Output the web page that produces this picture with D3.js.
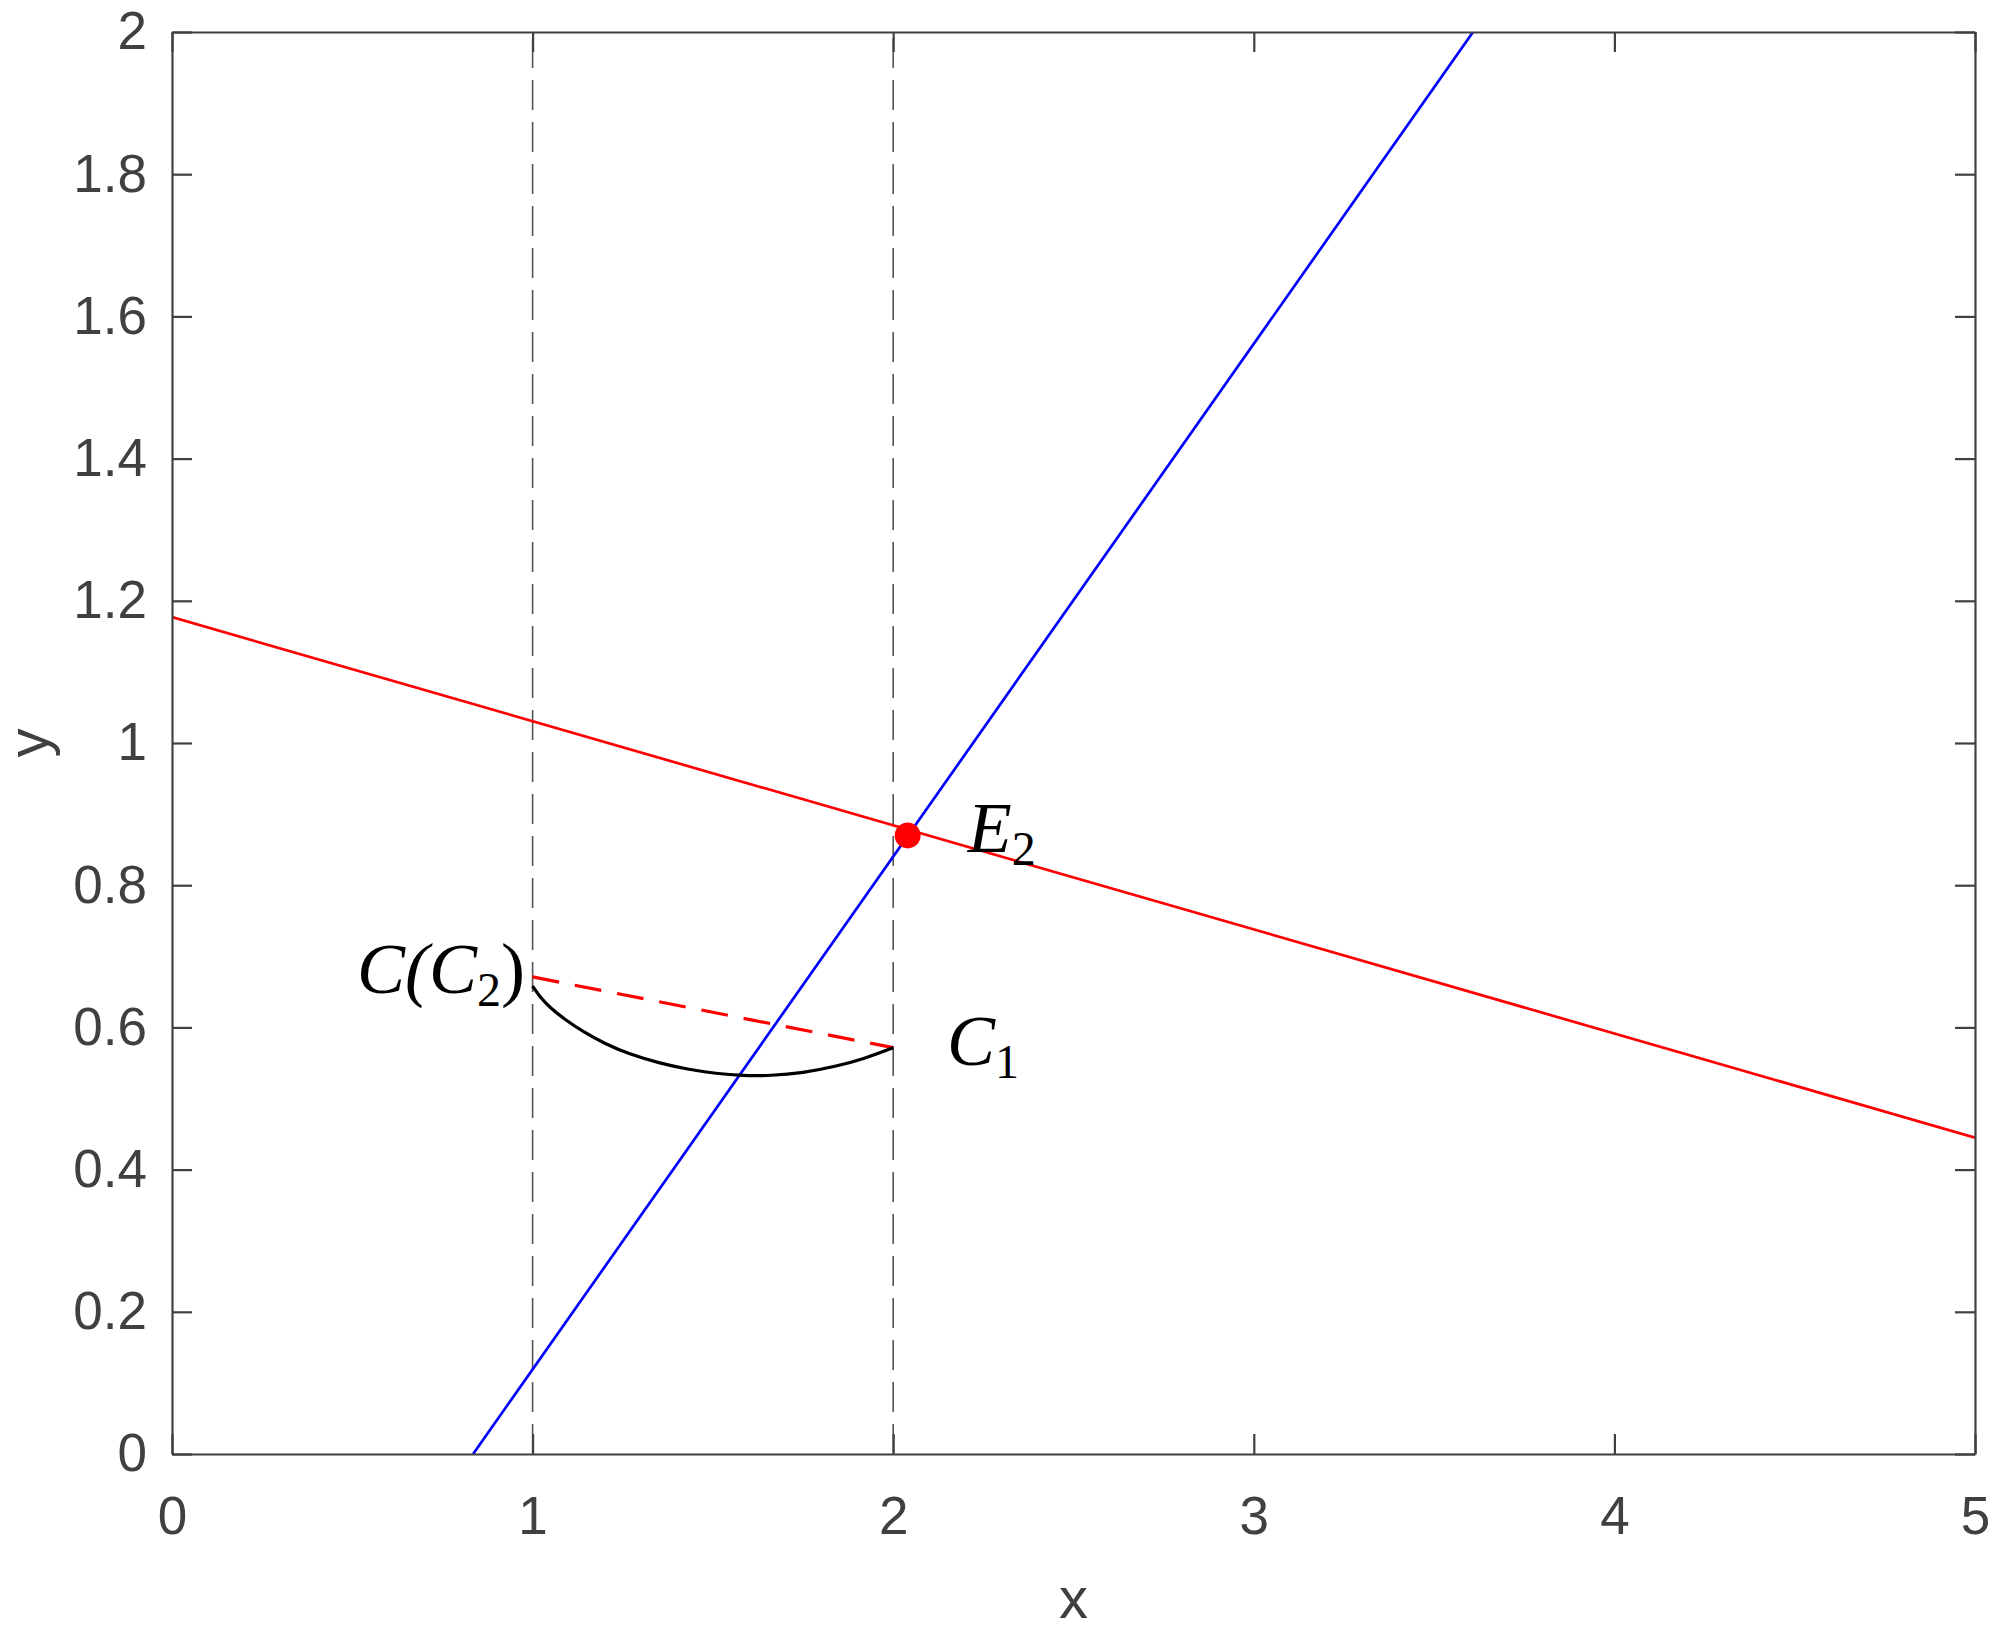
<!DOCTYPE html>
<html>
<head>
<meta charset="utf-8">
<script src="https://cdn.jsdelivr.net/npm/d3@7"></script>
<style>
  body { margin: 0; background: #fff; }
</style>
</head>
<body>
<svg id="chart"></svg>
<script>
// values
const xTicks = [0, 1, 2, 3, 4, 5];
const yTicks = [0, 0.2, 0.4, 0.6, 0.8, 1, 1.2, 1.4, 1.6, 1.8, 2];

const redLine = [[0, 1.177], [5, 0.445]];
const blueLine = [[0.835, 0], [3.608, 2]];
const redDashed = [[1, 0.671], [2, 0.5715]];
const guideXs = [1, 2];
const arcCurve = [
  [1.00, 0.658], [1.02, 0.643], [1.05, 0.627], [1.09, 0.611], [1.14, 0.594],
  [1.20, 0.577], [1.27, 0.562], [1.35, 0.550], [1.43, 0.541], [1.51, 0.535],
  [1.58, 0.532], [1.66, 0.532], [1.75, 0.536], [1.84, 0.545], [1.92, 0.556],
  [2.00, 0.5715]
];
const eqPoint = [2.04, 0.870];

// labels: italic text, subscript, upright tail, position in data units
const labels = [
  { main: "C(C", sub: "2", tail: ")", x: 0.979, y: 0.648, anchor: "end" },
  { main: "C", sub: "1", tail: "", x: 2.149, y: 0.547, anchor: "start" },
  { main: "E", sub: "2", tail: "", x: 2.207, y: 0.847, anchor: "start" }
];

const W = 2000, H = 1650;
const plot = { left: 172, right: 1975, top: 32, bottom: 1454 };
const axisColor = "#404040";

const svg = d3.select("#chart").attr("width", W).attr("height", H);

const x = d3.scaleLinear().domain([0, 5]).range([plot.left, plot.right]);
const y = d3.scaleLinear().domain([0, 2]).range([plot.bottom, plot.top]);

svg.append("defs").append("clipPath").attr("id", "clip")
  .append("rect")
  .attr("x", plot.left).attr("y", plot.top)
  .attr("width", plot.right - plot.left).attr("height", plot.bottom - plot.top);

const g = svg.append("g").attr("clip-path", "url(#clip)");
const line = d3.line().x(d => x(d[0])).y(d => y(d[1]));

// vertical guides
g.selectAll(".guide")
  .data(guideXs)
  .enter().append("line")
  .attr("class", "guide")
  .attr("x1", d => x(d)).attr("x2", d => x(d))
  .attr("y1", y(0)).attr("y2", y(2))
  .attr("stroke", "#555")
  .attr("stroke-width", 1.6)
  .attr("stroke-dasharray", "30,12");

g.append("path").datum(redLine)
  .attr("d", line).attr("fill", "none")
  .attr("stroke", "#ff0000").attr("stroke-width", 2.7);

g.append("path").datum(blueLine)
  .attr("d", line).attr("fill", "none")
  .attr("stroke", "#0000ff").attr("stroke-width", 2.7);

g.append("path").datum(redDashed)
  .attr("d", line).attr("fill", "none")
  .attr("stroke", "#ff0000").attr("stroke-width", 3.2)
  .attr("stroke-dasharray", "27,16");

g.append("path").datum(arcCurve)
  .attr("d", d3.line().x(d => x(d[0])).y(d => y(d[1])).curve(d3.curveBasis))
  .attr("fill", "none")
  .attr("stroke", "#000").attr("stroke-width", 3.2);

svg.append("circle")
  .attr("cx", x(eqPoint[0])).attr("cy", y(eqPoint[1]))
  .attr("r", 13).attr("fill", "#ff0000");

// math-style labels
const lab = svg.selectAll(".lab")
  .data(labels)
  .enter().append("text")
  .attr("class", "lab")
  .attr("x", d => x(d.x)).attr("y", d => y(d.y))
  .attr("text-anchor", d => d.anchor)
  .attr("font-family", "'Liberation Serif', 'DejaVu Serif', serif")
  .attr("font-size", 72)
  .attr("fill", "#000");

lab.append("tspan").attr("font-style", "italic").text(d => d.main);
lab.append("tspan").attr("font-size", 48).attr("dy", 13).text(d => d.sub);
lab.filter(d => d.tail).append("tspan").attr("dy", -13).text(d => d.tail);

// axes, ticks pointing inward on all four sides
function styleAxis(sel) {
  sel.select(".domain").attr("stroke", axisColor).attr("stroke-width", 2.2);
  sel.selectAll(".tick line").attr("stroke", axisColor).attr("stroke-width", 2.2);
  sel.selectAll(".tick text")
    .attr("fill", axisColor)
    .attr("font-size", 53)
    .attr("font-family", "'Liberation Sans', Arial, Helvetica, sans-serif");
}

svg.append("g")
  .attr("transform", `translate(0,${plot.bottom})`)
  .call(d3.axisBottom(x).tickValues(xTicks).tickSize(-20).tickSizeOuter(0).tickPadding(42)
    .tickFormat(d3.format("d")))
  .call(styleAxis);

svg.append("g")
  .attr("transform", `translate(0,${plot.top})`)
  .call(d3.axisTop(x).tickValues(xTicks).tickSize(-20).tickSizeOuter(0).tickFormat(""))
  .call(styleAxis);

svg.append("g")
  .attr("transform", `translate(${plot.left},0)`)
  .call(d3.axisLeft(y).tickValues(yTicks).tickSize(-20).tickSizeOuter(0).tickPadding(25)
    .tickFormat(d => d3.format("~g")(d)))
  .call(styleAxis);

svg.append("g")
  .attr("transform", `translate(${plot.right},0)`)
  .call(d3.axisRight(y).tickValues(yTicks).tickSize(-20).tickSizeOuter(0).tickFormat(""))
  .call(styleAxis);

// axis titles
svg.append("text")
  .attr("x", (plot.left + plot.right) / 2).attr("y", 1618)
  .attr("text-anchor", "middle")
  .attr("font-family", "'Liberation Sans', Arial, Helvetica, sans-serif")
  .attr("font-size", 58).attr("fill", axisColor)
  .text("x");

svg.append("text")
  .attr("transform", `translate(48,${(plot.top + plot.bottom) / 2}) rotate(-90)`)
  .attr("text-anchor", "middle")
  .attr("font-family", "'Liberation Sans', Arial, Helvetica, sans-serif")
  .attr("font-size", 58).attr("fill", axisColor)
  .text("y");
</script>
</body>
</html>
